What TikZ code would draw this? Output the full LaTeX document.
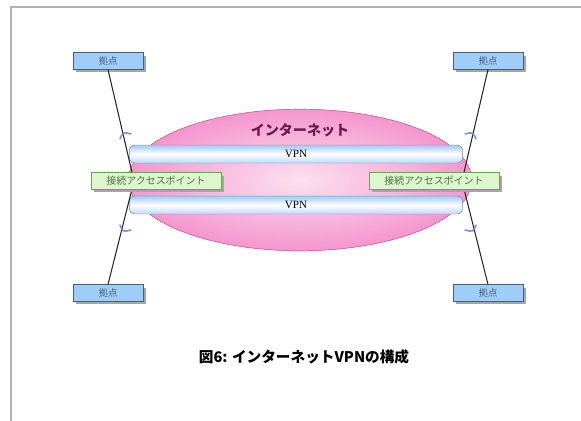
\documentclass[tikz,border=0pt]{standalone}
\usepackage{fontspec}
\setmainfont{Noto Sans CJK JP}
\newfontfamily\vpnfont{Liberation Serif}
\usetikzlibrary{positioning, shadows, shapes.geometric}

\definecolor{kyotenblue}{RGB}{158,205,248}
\definecolor{kyotenline}{RGB}{70,95,135}
\definecolor{apgreen}{RGB}{222,246,206}
\definecolor{apline}{RGB}{110,160,95}
\definecolor{netpink}{RGB}{244,150,205}
\definecolor{netline}{RGB}{195,70,140}
\definecolor{nettext}{RGB}{110,25,75}
\definecolor{tubeblue}{RGB}{160,200,245}
\definecolor{tubeline}{RGB}{105,145,200}

\tikzset{
    kyoten/.style={draw=kyotenline, fill=kyotenblue, minimum width=2.1cm, minimum height=0.5cm,
        inner sep=0pt, font=\fontsize{8}{8}\selectfont\color{kyotenline},
        drop shadow={shadow xshift=2.5pt, shadow yshift=-2.5pt, fill=gray!70, opacity=1}},
    ap/.style={draw=apline, fill=apgreen, minimum width=3.9cm, minimum height=0.5cm,
        inner sep=0pt, font=\fontsize{8.5}{8.5}\selectfont\color{apline!70!black},
        drop shadow={shadow xshift=2.5pt, shadow yshift=-2.5pt, fill=gray!70, opacity=1}},
    tube/.style={draw=tubeline, top color=tubeblue, bottom color=tubeblue!70, middle color=white,
        rounded corners=5pt, minimum width=10cm, minimum height=0.54cm, inner sep=0pt,
        font=\vpnfont\fontsize{9.5}{9.5}\selectfont},
    link/.style={draw=black!85, line width=0.9pt},
    tip/.style={draw=tubeblue!70!blue, line width=1.3pt, line cap=round}
}

\begin{document}
\begin{tikzpicture}[x=0.03cm, y=-0.03cm]
    \useasboundingbox (0,0) rectangle (581,421);
    \draw[gray!60, line width=1.5pt] (11,421) -- (11,7) -- (581,7);

    \node[ellipse, draw=netline, inner color=white!35!netpink!45, outer color=netpink,
        minimum width=10.3cm, minimum height=4.25cm] (net) at (300,180) {};
    \node[font=\fontsize{12}{12}\selectfont\bfseries, text=nettext] (netlabel) at (300,130) {インターネット};

    \node[tube] (vpn1) at (296,154) {VPN};
    \node[tube] (vpn2) at (296,205) {VPN};

    \node[kyoten] (kyotenLT) at (108,61) {拠点};
    \node[kyoten] (kyotenRT) at (488,61) {拠点};
    \node[kyoten] (kyotenLB) at (108,293) {拠点};
    \node[kyoten] (kyotenRB) at (488,293) {拠点};

    \coordinate (jointL) at (134,181);
    \coordinate (jointR) at (462,181);

    \draw[link] (kyotenLT.south) -- (jointL) -- (kyotenLB.north);
    \draw[link] (kyotenRT.south) -- (jointR) -- (kyotenRB.north);

    \draw[tip] (120,139) .. controls (123,132) .. (131,134);
    \draw[tip] (120,225) .. controls (123,232) .. (131,230);
    \draw[tip] (476,139) .. controls (473,132) .. (465,134);
    \draw[tip] (476,225) .. controls (473,232) .. (465,230);

    \node[ap] (apL) at (156,181) {接続アクセスポイント};
    \node[ap] (apR) at (434,181) {接続アクセスポイント};

    \node[font=\fontsize{12.5}{12.5}\selectfont\bfseries] (caption) at (304,357) {図6: インターネットVPNの構成};
\end{tikzpicture}
\end{document}
